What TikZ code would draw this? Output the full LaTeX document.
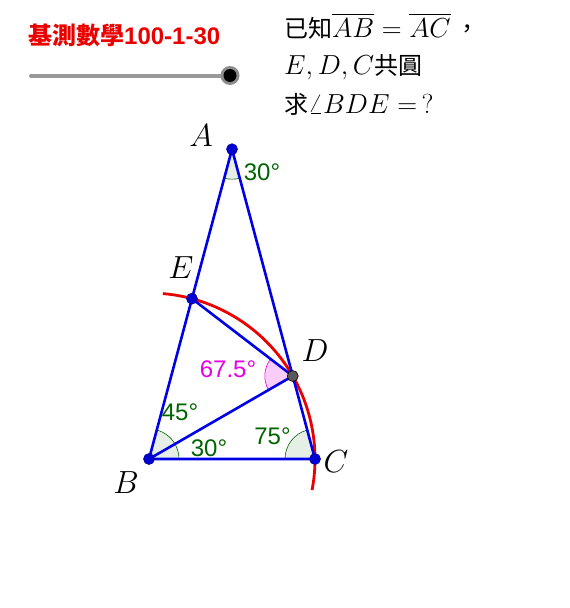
\RequirePackage{fix-cm}
\documentclass[tikz,border=0pt]{standalone}
\usepackage{fontspec}
\usepackage{amsmath}
\newfontfamily\cjk{Noto Sans CJK TC}
\newfontfamily\arial{Liberation Sans}
\newcommand{\zh}[1]{{\fontsize{24}{24}\selectfont\cjk #1}}
\definecolor{gblue}{RGB}{0,0,230}
\definecolor{gred}{RGB}{235,0,0}
\definecolor{ggreen}{RGB}{0,100,0}
\definecolor{gmag}{RGB}{230,0,230}
\definecolor{ptblue}{RGB}{0,0,210}
\tikzset{
  seg/.style={draw=gblue, line width=2.6pt},
  pt/.style={circle, fill=ptblue, draw=blue!60!black, line width=0.6pt, inner sep=0pt, minimum size=11pt},
  ptd/.style={circle, fill=black!65, draw=black, line width=0.6pt, inner sep=0pt, minimum size=11pt},
  plabel/.style={font=\fontsize{32}{32}\selectfont},
  anglab/.style={text=ggreen, font=\arial\fontsize{24}{24}\selectfont, inner sep=0pt},
  greenang/.style={fill=ggreen, fill opacity=0.1, draw=ggreen, draw opacity=1, line width=0.6pt},
  magang/.style={fill=gmag, fill opacity=0.2, draw=gmag, draw opacity=1, line width=0.6pt},
  txt/.style={anchor=base west, inner sep=0pt, font=\fontsize{27.5}{27.5}\selectfont}
}
\begin{document}
\begin{tikzpicture}[x=1pt,y=1pt]
\useasboundingbox (0,-608) rectangle (570,0);
% points
\coordinate (A) at (232,-149.2);
\coordinate (B) at (149,-459);
\coordinate (C) at (315,-459);
\coordinate (D) at (292.76,-376);
\coordinate (E) at (191.96,-298.66);
% angle marks
\draw[greenang] (A) -- ++(255:30) arc[start angle=255, end angle=285, radius=30] -- cycle;
\draw[greenang] (B) -- ++(0:30) arc[start angle=0, end angle=30, radius=30] -- cycle;
\draw[greenang] (B) -- ++(30:30) arc[start angle=30, end angle=75, radius=30] -- cycle;
\draw[greenang] (C) -- ++(105:30) arc[start angle=105, end angle=180, radius=30] -- cycle;
\draw[magang] (D) -- ++(142.5:28) arc[start angle=142.5, end angle=210, radius=28] -- cycle;
% red arc centered at B
\draw[gred, line width=2.8pt] (B) ++(85.2:166) arc[start angle=85.2, end angle=-10.8, radius=166];
% segments
\draw[seg] (A) -- (B) -- (C) -- cycle;
\draw[seg] (B) -- (D);
\draw[seg] (E) -- (D);
% point markers
\node[pt] (nA) at (A) {};
\node[pt] (nB) at (B) {};
\node[pt] (nC) at (C) {};
\node[pt] (nE) at (E) {};
\node[ptd] (nD) at (D) {};
% point labels
\node[plabel] (lA) at (201,-136) {$A$};
\node[plabel] (lE) at (181,-268) {$E$};
\node[plabel] (lD) at (315,-351) {$D$};
\node[plabel] (lC) at (336,-462) {$C$};
\node[plabel] (lB) at (126,-483) {$B$};
% angle labels
\node[anglab] (a1) at (262,-172) {30°};
\node[anglab] (a2) at (180,-412) {45°};
\node[anglab] (a3) at (209,-448) {30°};
\node[anglab] (a4) at (272.5,-436) {75°};
\node[anglab, text=gmag] (a5) at (228,-369) {67.5°};
% title
\node[anchor=base west, inner sep=0pt, text=gred] (title) at (28,-44)
  {\fontsize{24}{24}\selectfont\cjk\bfseries 基測數學\arial\bfseries 100-1-30};
% slider
\draw[black!40, line width=4pt, line cap=round] (31,-75.5) -- (230,-75.5);
\node[circle, fill=black!45, inner sep=0pt, minimum size=19pt] (knobring) at (230,-75.5) {};
\node[circle, fill=black, inner sep=0pt, minimum size=13pt] (knob) at (230,-75.5) {};
% problem text
\node[txt] (t1) at (284,-37) {\zh{已知}$\overline{AB}=\overline{AC}$\,\zh{，}};
\node[txt] (t2) at (284,-74) {$E,D,C$\zh{共圓}};
\node[txt] (t3) at (284,-113) {\zh{求}$\angle BDE=\,?$};
\end{tikzpicture}
\end{document}
